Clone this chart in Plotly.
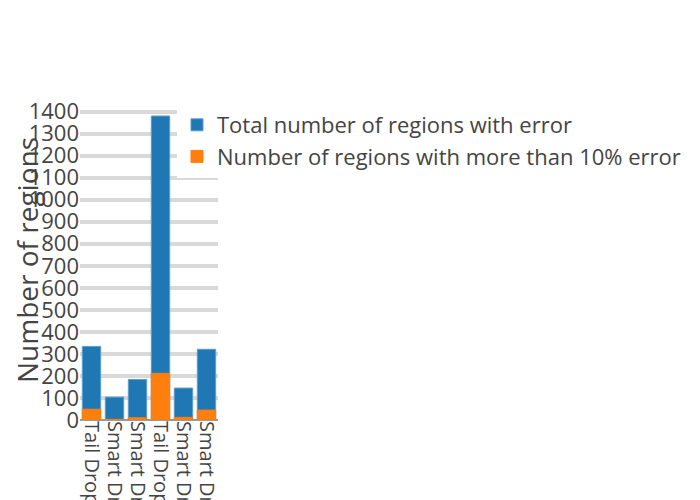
import plotly.graph_objects as go

categories = ["Tail Drop 1", "Smart Drop 1", "Smart Drop 2", "Tail Drop 2", "Smart Drop 3", "Smart Drop 4"]
total_errors = [334, 104, 184, 1380, 145, 321]
over_10pct = [49, 3, 10, 212, 12, 45]

fig = go.Figure()
fig.add_trace(go.Bar(x=categories, y=total_errors, name="Total number of regions with error",
                     marker=dict(color="#1f77b4", line=dict(color="#5c9fd1", width=1))))
fig.add_trace(go.Bar(x=categories, y=over_10pct, name="Number of regions with more than 10% error",
                     marker=dict(color="#ff7f0e", line=dict(color="#ff7f0e", width=1))))

fig.update_layout(
    width=700, height=500,
    barmode="overlay",
    margin=dict(l=72, r=80, t=92, b=88),
    font=dict(family="Open Sans", size=22, color="#444"),
    plot_bgcolor="white", paper_bgcolor="white",
    yaxis=dict(title=dict(text="Number of regions", font=dict(size=28)),
               tickfont=dict(size=22),
               gridcolor="#d9d9d9", gridwidth=4, dtick=100, automargin=False,
               zeroline=True, zerolinecolor="#999", zerolinewidth=2),
    xaxis=dict(tickfont=dict(size=20), tickangle=90, automargin=False, domain=[0, 0.2518],
               tickmode="array", tickvals=categories, ticktext=categories),
    legend=dict(font=dict(size=22), x=0.177, y=0.9875, xanchor="left", yanchor="top",
                bgcolor="white"),
)
fig.write_html("out.html")
